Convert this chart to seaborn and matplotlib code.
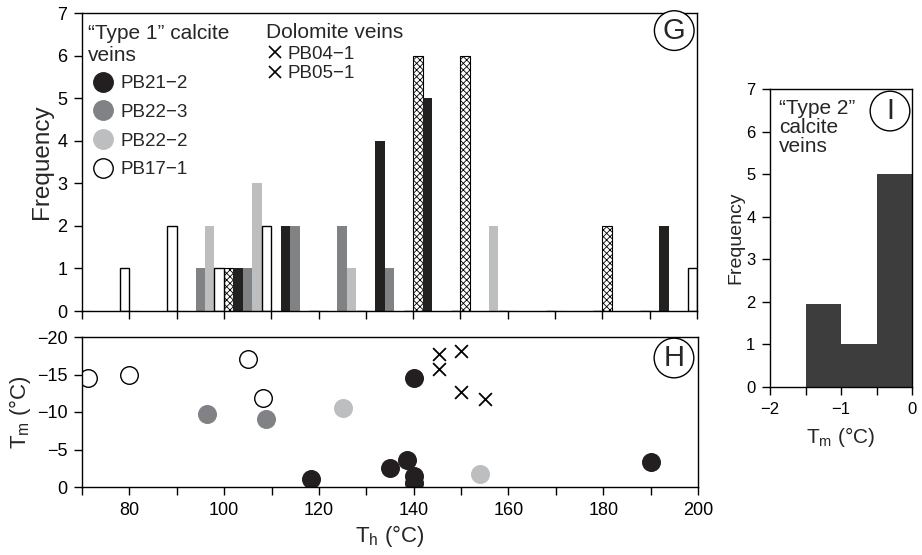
import numpy as np
import pandas as pd
import matplotlib
matplotlib.use("Agg")
import matplotlib.pyplot as plt
import seaborn as sns
from matplotlib.lines import Line2D

# --- data ---------------------------------------------------------------
bin_left = [70, 80, 90, 100, 110, 120, 130, 140, 150, 160, 170, 180, 190]
samples = ["PB04-1/PB05-1", "PB21-2", "PB22-3", "PB22-2", "PB17-1"]
cnt_dolomite = [0, 0, 0, 1, 0, 0, 0, 6, 6, 0, 0, 2, 0]
cnt_pb21_2 = [0, 0, 0, 1, 2, 0, 4, 5, 0, 0, 0, 0, 2]
cnt_pb22_3 = [0, 0, 1, 1, 2, 2, 1, 0, 0, 0, 0, 0, 0]
cnt_pb22_2 = [0, 0, 2, 3, 0, 1, 0, 0, 2, 0, 0, 0, 0]
cnt_pb17_1 = [1, 2, 1, 2, 0, 0, 0, 0, 0, 0, 0, 0, 1]

# Th / Tm pairs
th_pb17_1 = [71.2, 79.9, 105.0, 108.1]
tm_pb17_1 = [-14.6, -15.0, -17.1, -11.9]
th_pb22_3 = [96.3, 108.9]
tm_pb22_3 = [-9.8, -9.1]
th_pb22_2 = [125.0, 153.9]
tm_pb22_2 = [-10.5, -1.8]
th_pb21_2 = [140.0, 118.3, 135.1, 138.6, 140.0, 140.0, 190.0]
tm_pb21_2 = [-14.6, -1.1, -2.5, -3.6, -1.5, -0.5, -3.4]
th_dolo = [145.3, 145.3, 150.0, 150.0, 155.0]
tm_dolo = [-17.8, -15.7, -18.1, -12.7, -11.7]

# "Type 2" veins Tm histogram
t2_centers = [-1.75, -1.25, -0.75, -0.25]
t2_counts = [0, 1.95, 1, 5]
t2_bins = [-2, -1.5, -1, -0.5, 0]

# --- style --------------------------------------------------------------
sns.set_theme(style="ticks")
plt.rcParams['font.family'] = ['Liberation Sans', 'DejaVu Sans']
plt.rcParams['mathtext.default'] = 'regular'
plt.rcParams['font.size'] = 13
plt.rcParams['axes.linewidth'] = 1.0
plt.rcParams['hatch.linewidth'] = 0.6

c_black = "#231f20"
c_dgray = "#808285"
c_lgray = "#bcbec0"
palette = {"PB04-1/PB05-1": "white", "PB21-2": c_black, "PB22-3": c_dgray,
           "PB22-2": c_lgray, "PB17-1": "white"}

fig = plt.figure(figsize=(9.22, 5.55), dpi=100)
axG = fig.add_axes([82/922, 244/555, 615/922, 298/555])
axH = fig.add_axes([82/922, 68/555, 616/922, 150/555])
axI = fig.add_axes([770/922, 168/555, 142/922, 298/555])

tick_kw = dict(which="both", direction="out", length=6, width=1, pad=4.5,
               colors="black", labelsize=13)
circ = dict(boxstyle="circle,pad=0.2", fc="white", ec="black", lw=1)

# --- G: grouped histogram -----------------------------------------------
rows = []
for s, cnt in zip(samples, [cnt_dolomite, cnt_pb21_2, cnt_pb22_3, cnt_pb22_2, cnt_pb17_1]):
    for b, c in zip(bin_left, cnt):
        rows.append({"bin": b + 5, "sample": s, "count": c})
df = pd.DataFrame(rows)

sns.barplot(data=df, x="bin", y="count", hue="sample", hue_order=samples,
            palette=palette, native_scale=True, width=1, dodge=True,
            errorbar=None, legend=False, ax=axG, linewidth=0)
for i, cont in enumerate(axG.containers):
    for p in cont:
        if i == 0:
            p.set_hatch("xxxxx")
            p.set_edgecolor("black")
            p.set_linewidth(0.8)
        elif i == 4:
            p.set_edgecolor("black")
            p.set_linewidth(1.0)

axG.set_xlim(70, 200)
axG.set_ylim(0, 7)
axG.set_xticks(np.arange(70, 201, 10))
axG.set_xticklabels([])
axG.set_yticks(range(0, 8))
axG.tick_params(**tick_kw)
axG.set_xlabel("")
axG.set_ylabel("Frequency", fontsize=17.5, labelpad=3)
for sp in axG.spines.values():
    sp.set_color("black")
axG.text(0.963, 0.941, "G", transform=axG.transAxes, fontsize=21,
         ha="center", va="center", bbox=circ)

h1 = [Line2D([], [], ls="", marker="o", ms=14, mfc=c, mec=e, mew=1)
      for c, e in [(c_black, c_black), (c_dgray, c_dgray), (c_lgray, c_lgray), ("white", "black")]]
leg1 = axG.legend(h1, ["PB21\u22122", "PB22\u22123", "PB22\u22122", "PB17\u22121"],
                  title="\u201cType 1\u201d calcite\nveins", loc="upper left",
                  bbox_to_anchor=(-0.008, 1.0), frameon=False, fontsize=13.5,
                  title_fontsize=15, handletextpad=0.12, handlelength=1.6,
                  labelspacing=0.62, borderaxespad=0.2)
leg1._legend_box.align = "left"
leg1._legend_box.sep = 7
axG.add_artist(leg1)
h2 = [Line2D([], [], ls="", marker="x", ms=9, mec="black", mew=1.2) for _ in range(2)]
leg2 = axG.legend(h2, ["PB04\u22121", "PB05\u22121"], title="Dolomite veins",
                  loc="upper left", bbox_to_anchor=(0.281, 1.005), frameon=False,
                  fontsize=13.5, title_fontsize=15, handletextpad=0.25,
                  handlelength=0.9, labelspacing=0.12, borderaxespad=0.2)
leg2._legend_box.align = "left"
leg2._legend_box.sep = 3

# --- H: Tm vs Th scatter -----------------------------------------------
sns.scatterplot(x=th_pb17_1, y=tm_pb17_1, ax=axH, s=160, color="white",
                edgecolor="black", linewidth=1)
sns.scatterplot(x=th_pb22_3, y=tm_pb22_3, ax=axH, s=160, color=c_dgray, edgecolor=c_dgray)
sns.scatterplot(x=th_pb22_2, y=tm_pb22_2, ax=axH, s=160, color=c_lgray, edgecolor=c_lgray)
sns.scatterplot(x=th_pb21_2, y=tm_pb21_2, ax=axH, s=160, color=c_black, edgecolor=c_black)
sns.scatterplot(x=th_dolo, y=tm_dolo, ax=axH, s=85, marker="x", color="black", linewidth=1.3)

axH.set_xlim(70, 200)
axH.set_ylim(0, -20)
axH.set_xticks(np.arange(80, 201, 20))
axH.set_xticks(np.arange(70, 201, 10), minor=True)
axH.set_yticks([0, -5, -10, -15, -20])
axH.tick_params(**tick_kw)
axH.set_xlabel("T$_{h}$ (\u00b0C)", fontsize=16, labelpad=3)
axH.set_ylabel("T$_{m}$ (\u00b0C)", fontsize=16, labelpad=3)
for sp in axH.spines.values():
    sp.set_color("black")
axH.text(0.961, 0.86, "H", transform=axH.transAxes, fontsize=21,
         ha="center", va="center", bbox=circ)

# --- I: Type 2 histogram ------------------------------------------------
sns.histplot(x=t2_centers, weights=t2_counts, bins=t2_bins, ax=axI,
             color="#3d3d3d", alpha=1, linewidth=0)
axI.set_xlim(-2, 0)
axI.set_ylim(0, 7)
axI.set_xticks([-2, -1, 0])
axI.set_xticks([-1.5, -0.5], minor=True)
axI.set_yticks(range(0, 8))
axI.tick_params(**tick_kw)
axI.tick_params(labelsize=12)
axI.set_ylabel("Frequency", fontsize=14, labelpad=1)
axI.set_xlabel("T$_{m}$ (\u00b0C)", fontsize=15, labelpad=6)
for sp in axI.spines.values():
    sp.set_color("black")
axI.text(0.065, 0.965, "\u201cType 2\u201d\ncalcite\nveins", transform=axI.transAxes,
         fontsize=15, ha="left", va="top", linespacing=1.0)
axI.text(0.845, 0.926, "I", transform=axI.transAxes, fontsize=21,
         ha="center", va="center", bbox=circ)

fig.savefig("out.png", dpi=100)
